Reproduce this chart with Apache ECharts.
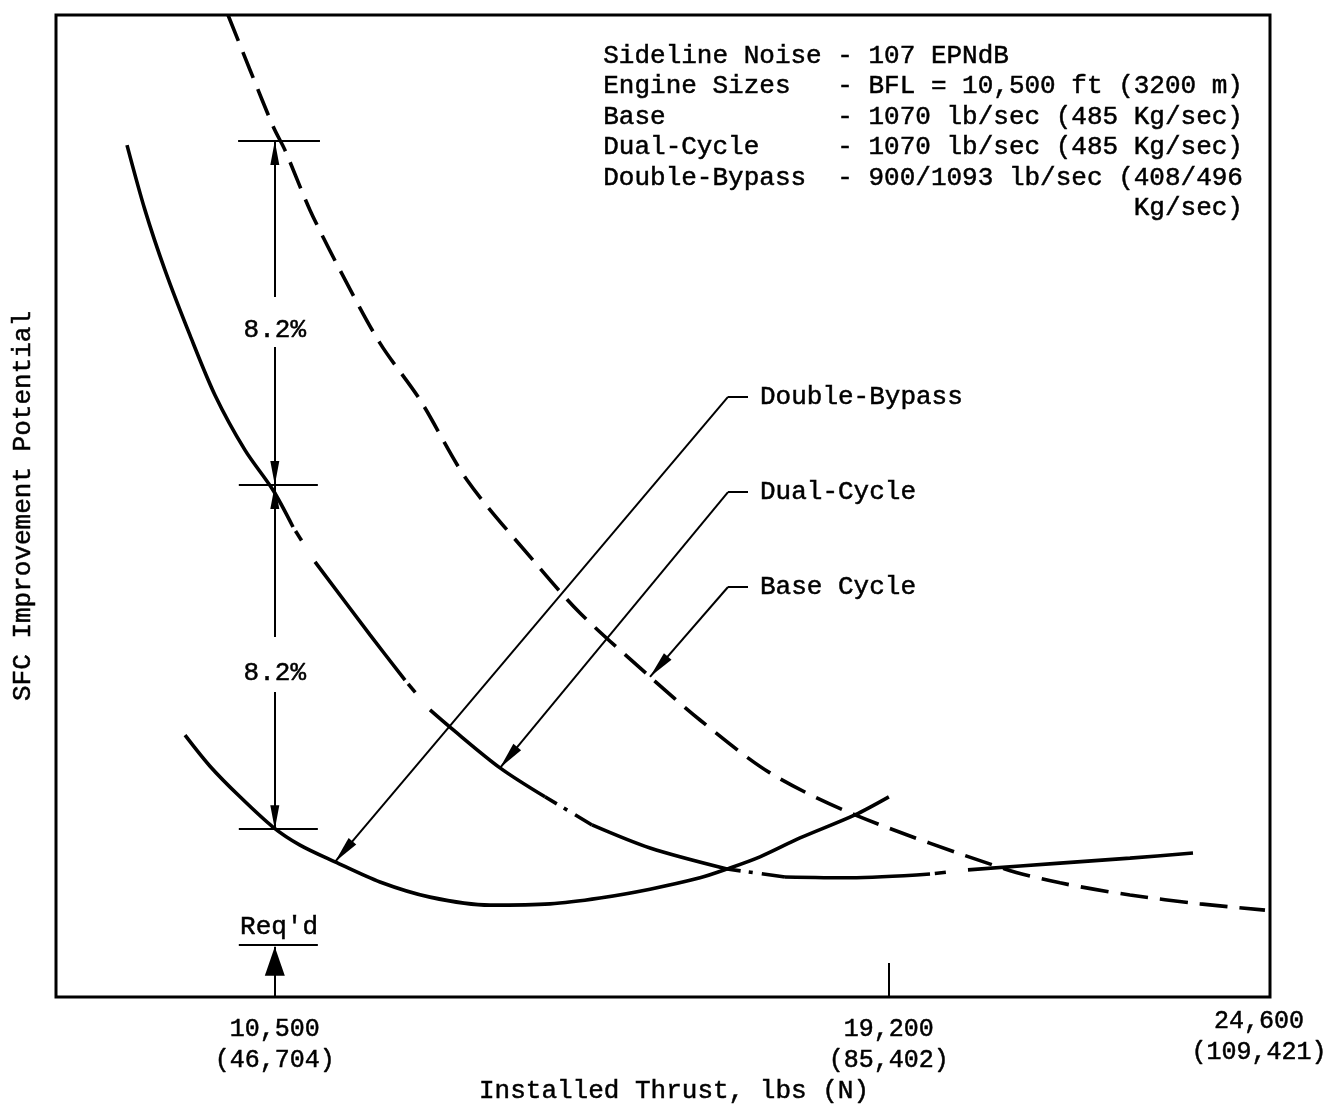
<!DOCTYPE html>
<html>
<head>
<meta charset="utf-8">
<script src="https://cdn.jsdelivr.net/npm/echarts@6/dist/echarts.min.js"></script>
<style>
  html, body { margin: 0; padding: 0; background: #fff; overflow: hidden; }
  #chart { width: 1329px; height: 1104px; }
</style>
</head>
<body>
<div id="chart"></div>
<script>
// SFC improvement potential (%) versus installed thrust (lb)

// x tick values and their two-line labels
const thrustTicks = [10500, 19200, 24600];
const thrustLbs = ['10,500', '19,200', '24,600'];
const thrustN = ['(46,704)', '(85,402)', '(109,421)'];

// curves: [installed thrust lb, SFC improvement %]
const doubleBypass = [
  [9228, 6.24], [9582, 5.50], [10007, 4.77], [10474, 4.05], [10857, 3.62],
  [11353, 3.22], [11990, 2.74], [12699, 2.38], [13549, 2.19], [14399, 2.22],
  [15107, 2.36], [15816, 2.57], [16524, 2.84], [16907, 3.05], [17374, 3.34],
  [17941, 3.79], [18720, 4.34], [19200, 4.77]
];
const dualCycle = [
  [8406, 20.30], [8661, 18.75], [8944, 17.32], [9298, 15.77], [9653, 14.34],
  [10078, 13.03], [10474, 12.08], [10758, 11.20], [11070, 10.37], [11849, 8.63],
  [12345, 7.55], [12699, 6.84], [12982, 6.43], [13691, 5.46], [14328, 4.77],
  [14994, 4.10], [15816, 3.55], [16907, 3.05], [17728, 2.86], [18649, 2.84],
  [19783, 2.93], [20321, 3.03], [21625, 3.19], [22616, 3.31], [23509, 3.43]
];
const baseCycle = [
  [9837, 23.40], [10149, 22.09], [10480, 20.73], [10644, 20.18], [10999, 18.75],
  [11424, 17.32], [11990, 15.58], [12557, 14.23], [13223, 12.32], [14158, 10.41],
  [14824, 9.15], [15816, 7.63], [16524, 6.60], [17516, 5.34], [18720, 4.34],
  [20845, 3.05], [21625, 2.72], [22616, 2.43], [23608, 2.22], [24529, 2.07]
];

// SFC levels at 10,500 lb (double-bypass, dual-cycle, base) and their spacing
const requiredThrust = 10500;
const levelsAtRequired = [4.0, 12.2, 20.4];
const stepLabel = '8.2%';
const requiredLabel = "Req'd";

// curve call-outs
const curveNames = ['Double-Bypass', 'Dual-Cycle', 'Base Cycle'];

// design conditions
const notes = [
  'Sideline Noise - 107 EPNdB',
  'Engine Sizes   - BFL = 10,500 ft (3200 m)',
  'Base           - 1070 lb/sec (485 Kg/sec)',
  'Dual-Cycle     - 1070 lb/sec (485 Kg/sec)',
  'Double-Bypass  - 900/1093 lb/sec (408/496',
  '                                  Kg/sec)'
];

const axisNameX = 'Installed Thrust, lbs (N)';
const axisNameY = 'SFC Improvement Potential';

// ---------------------------------------------------------------- styling
const FONT = 'Liberation Mono';
const INK = '#000';
const CURVE_W = 3.6;
const TEXT_STROKE = 0.5;   // slight thickening of the typewriter text

// dual-cycle line: runs of point indices drawn solid / dashed / dash-dot
const dualRuns = [
  ['solid', 0, 7], ['dash', 7, 8], ['solid', 8, 10], ['dash', 10, 11],
  ['solid', 11, 14], ['dashdot', 14, 15], ['solid', 15, 17], ['dashdot', 17, 18],
  ['solid', 18, 20], ['dash', 20, 21], ['solid', 21, 24]
];
const runStyles = {
  solid: 'solid',
  dash: [0, 5, 11, 200],
  dashdot: [14, 8, 4, 9, 200]
};

// arrowhead: tip at the symbol centre so it lands on the end point
const arrowHead = 'path://M5,30 L10,60 L0,60 Z M5,0';

function curveSeries(name, data, type) {
  return {
    name: name,
    type: 'line',
    data: data,
    showSymbol: false,
    smooth: 0.3,
    silent: true,
    z: 5,
    lineStyle: { color: INK, width: CURVE_W, type: type, cap: 'butt' }
  };
}

const series = [];
series.push(curveSeries('Double-Bypass', doubleBypass, 'solid'));
dualRuns.forEach(function (r) {
  series.push(curveSeries('Dual-Cycle', dualCycle.slice(r[1], r[2] + 1), runStyles[r[0]]));
});
series.push(curveSeries('Base Cycle', baseCycle, [28, 12]));

// annotation geometry (data coordinates)
const yDB = levelsAtRequired[0], yDual = levelsAtRequired[1], yBase = levelsAtRequired[2];
const leaderCorner = 16921, leaderStubEnd = 17204, calloutX = 17374;
const calloutY = [14.30, 12.03, 9.77];
const calloutTargets = [doubleBypass[5], dualCycle[13], baseCycle[11]];

function seg(a, b, head, size) {
  return [
    { coord: a, symbol: 'none' },
    { coord: b, symbol: head ? arrowHead : 'none', symbolSize: size || [9, 48] }
  ];
}

const annoLines = [
  // dimension bars at 10,500 lb
  seg([9980, yBase], [11140, yBase]),
  seg([9990, yDual], [11110, yDual]),
  seg([9990, yDB], [11110, yDB]),
  // 8.2% arrows
  seg([requiredThrust, 16.68], [requiredThrust, yBase], true),
  seg([requiredThrust, 15.49], [requiredThrust, yDual], true),
  seg([requiredThrust, 8.58], [requiredThrust, yDual], true),
  seg([requiredThrust, 7.27], [requiredThrust, yDB], true),
  // required thrust marker
  seg([9990, 1.24], [11110, 1.24]),
  seg([requiredThrust, 0], [requiredThrust, 1.20], true, [20, 58])
];
calloutY.forEach(function (y, i) {
  annoLines.push(seg([leaderCorner, y], [leaderStubEnd, y]));
  annoLines.push(seg([leaderCorner, y], calloutTargets[i], true, [10, 54]));
});

series.push({
  name: 'annotations',
  type: 'line',
  data: [],
  silent: true,
  z: 4,
  markLine: {
    silent: true,
    animation: false,
    symbol: 'none',
    label: { show: false },
    lineStyle: { color: INK, width: 2, type: 'solid' },
    emphasis: { disabled: true },
    data: annoLines
  }
});

// text labels placed in data coordinates
const textItems = [];
curveNames.forEach(function (n, i) {
  textItems.push({ value: [calloutX, calloutY[i]], name: n, label: { position: 'right', distance: 0 } });
});
textItems.push({ value: [requiredThrust, 15.89], name: stepLabel, label: { position: 'inside' } });
textItems.push({ value: [requiredThrust, 7.72], name: stepLabel, label: { position: 'inside' } });
textItems.push({ value: [10560, 1.67], name: requiredLabel, label: { position: 'inside' } });

const textStroke = { textBorderColor: INK, textBorderWidth: TEXT_STROKE };

series.push({
  name: 'labels',
  type: 'scatter',
  data: textItems,
  symbolSize: 0,
  silent: true,
  z: 6,
  itemStyle: { color: INK, opacity: 1 },
  label: Object.assign({
    show: true,
    formatter: '{b}',
    fontFamily: FONT,
    fontSize: 26,
    color: INK
  }, textStroke)
});

const labelFont = Object.assign({ fontFamily: FONT, fontSize: 25, color: INK, lineHeight: 31 }, textStroke);

const chart = echarts.init(document.getElementById('chart'), null, { renderer: 'canvas' });
chart.setOption({
  animation: false,
  backgroundColor: '#fff',
  grid: {
    left: 56, right: 59, top: 15, bottom: 107,
    containLabel: false,
    outerBoundsMode: 'none',
    show: true, borderColor: INK, borderWidth: 3
  },
  xAxis: {
    type: 'value',
    min: 7400,
    max: 24600,
    axisLine: { show: false },
    splitLine: { show: false },
    axisTick: {
      show: true, inside: true, length: 34, customValues: [19200],
      lineStyle: { color: INK, width: 2 }
    },
    axisLabel: {
      show: true,
      customValues: thrustTicks,
      margin: 9,
      hideOverlap: false,
      formatter: function (v) {
        const i = thrustTicks.indexOf(v);
        if (i < 0) return '';
        if (i === thrustTicks.length - 1) {
          return '{c|' + thrustLbs[i] + '}\n{c|' + thrustN[i] + '}';
        }
        return '{s| }\n{a|' + thrustLbs[i] + '}\n{a|' + thrustN[i] + '}';
      },
      rich: {
        s: { fontSize: 1, lineHeight: 8 },
        a: labelFont,
        c: Object.assign({ padding: [0, 22, 0, 0] }, labelFont)
      }
    },
    name: axisNameX,
    nameLocation: 'middle',
    nameGap: 77,
    nameTextStyle: Object.assign({ fontFamily: FONT, fontSize: 26, color: INK, padding: [0, 0, 0, 22] }, textStroke)
  },
  yAxis: {
    type: 'value',
    min: 0,
    max: 23.4,
    axisLine: { show: false },
    axisTick: { show: false },
    axisLabel: { show: false },
    splitLine: { show: false },
    name: axisNameY,
    nameLocation: 'middle',
    nameRotate: 90,
    nameGap: 20,
    nameTextStyle: Object.assign({ fontFamily: FONT, fontSize: 26, color: INK }, textStroke)
  },
  graphic: [{
    type: 'text',
    left: 603,
    top: 41,
    silent: true,
    style: {
      text: notes.join('\n'),
      font: '26px "' + FONT + '"',
      fill: INK,
      stroke: INK,
      lineWidth: TEXT_STROKE,
      lineHeight: 30.4
    }
  }],
  series: series
});
</script>
</body>
</html>
